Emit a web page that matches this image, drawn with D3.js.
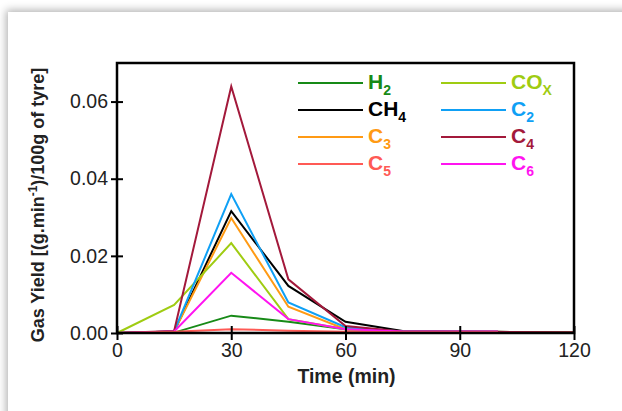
<!DOCTYPE html>
<html>
<head>
<meta charset="utf-8">
<script src="https://cdn.jsdelivr.net/npm/d3@7"></script>
<style>
  html, body { margin: 0; padding: 0; background: #fff; overflow: hidden; }
  #card {
    position: absolute; left: 8px; top: 12px; width: 660px; height: 430px;
    background: #fff; box-shadow: 0 0 8px 2px rgba(0, 0, 0, 0.3);
  }
  svg { position: absolute; left: 0; top: 0; }
  text { font-family: "Liberation Sans", Arial, sans-serif; }
</style>
</head>
<body>
<div id="card"></div>
<svg id="chart" width="622" height="411"></svg>
<script>
// Sampling times (min)
const times = [0, 15, 30, 45, 60, 75, 100, 120];

// Gas yields (g/min per 100 g of tyre); null = not measured
const h2 = [0, 0.0001, 0.0045, 0.0029, 0.0010, 0.0004, 0.0003, 0.0002];
const cox = [0, 0.0073, 0.0233, 0.0036, 0.0010, 0.0003, 0.0003, null];
const ch4 = [0, 0.0004, 0.0316, 0.0122, 0.0029, 0.0005, 0.0003, null];
const c2 = [0, 0.0004, 0.0360, 0.0079, 0.0015, 0.0004, 0.0003, null];
const c3 = [0, 0.0004, 0.0298, 0.0068, 0.0010, 0.0003, 0.0003, null];
const c4 = [0, 0.0005, 0.0639, 0.0139, 0.0018, 0.0004, 0.0003, 0.0002];
const c5 = [0, 0.0003, 0.0010, 0.0006, 0.0003, 0.0002, 0.0002, null];
const c6 = [0, 0.0004, 0.0156, 0.0036, 0.0010, 0.0004, 0.0004, null];

const xTicks = [0, 30, 60, 90, 120];
const yTicks = [0, 0.02, 0.04, 0.06];

// name, subscript, values, colour, legend column, legend row
const series = [
  { name: 'H', sub: '2', values: h2, color: '#178a17', col: 0, row: 0 },
  { name: 'CH', sub: '4', values: ch4, color: '#000000', col: 0, row: 1 },
  { name: 'C', sub: '3', values: c3, color: '#ff9a14', col: 0, row: 2 },
  { name: 'CO', sub: 'X', values: cox, color: '#9fcc12', col: 1, row: 0 },
  { name: 'C', sub: '2', values: c2, color: '#0fa0f5', col: 1, row: 1 },
  { name: 'C', sub: '4', values: c4, color: '#a3193b', col: 1, row: 2 },
  { name: 'C', sub: '6', values: c6, color: '#ff14f0', col: 1, row: 3 },
  { name: 'C', sub: '5', values: c5, color: '#ff5a55', col: 0, row: 3 }
];

const plotLeft = 117, plotRight = 574, plotTop = 63, plotBottom = 333;

const svg = d3.select('#chart');

const x = d3.scaleLinear().domain([0, 120]).range([plotLeft, plotRight]);
const y = d3.scaleLinear().domain([0, 0.07]).range([plotBottom, plotTop]);

// Lines
const line = d3.line()
  .defined(d => d[1] !== null)
  .x(d => x(d[0]))
  .y(d => y(d[1]));

svg.append('g')
  .selectAll('path')
  .data(series)
  .join('path')
  .attr('fill', 'none')
  .attr('stroke', d => d.color)
  .attr('stroke-width', 2)
  .attr('d', d => line(times.map((t, i) => [t, d.values[i]])));

// Frame
svg.append('rect')
  .attr('x', plotLeft).attr('y', plotTop)
  .attr('width', plotRight - plotLeft).attr('height', plotBottom - plotTop)
  .attr('fill', 'none')
  .attr('stroke', '#000')
  .attr('stroke-width', 2.5);

// Axes
const xAxis = svg.append('g')
  .attr('transform', `translate(0,${plotBottom})`)
  .call(d3.axisBottom(x).tickValues(xTicks).tickSize(7).tickPadding(3).tickFormat(d3.format('d')));
xAxis.select('.domain').remove();
xAxis.selectAll('.tick line').attr('y1', -7).attr('stroke-width', 2);
xAxis.selectAll('.tick text')
  .attr('fill', '#222')
  .style('font-size', '19.5px');

const yAxis = svg.append('g')
  .attr('transform', `translate(${plotLeft},0)`)
  .call(d3.axisLeft(y).tickValues(yTicks).tickSize(6).tickPadding(3).tickFormat(d3.format('.2f')));
yAxis.select('.domain').remove();
yAxis.selectAll('.tick line').attr('x1', 6).attr('stroke-width', 2);
yAxis.selectAll('.tick text')
  .attr('fill', '#222')
  .style('font-size', '19.5px');

// Axis titles
svg.append('text')
  .attr('x', (plotLeft + plotRight) / 2 + 1)
  .attr('y', 383)
  .attr('text-anchor', 'middle')
  .attr('fill', '#222')
  .style('font-size', '19.5px')
  .style('font-weight', 'bold')
  .text('Time (min)');

const yTitle = svg.append('text')
  .attr('transform', `translate(44,${(plotTop + plotBottom) / 2 + 7}) rotate(-90)`)
  .attr('text-anchor', 'middle')
  .attr('fill', '#222')
  .style('font-size', '18px')
  .style('font-weight', 'bold');
yTitle.append('tspan').text('Gas Yield [(g.min');
yTitle.append('tspan').attr('dy', -7).style('font-size', '12px').text('-1');
yTitle.append('tspan').attr('dy', 7).text(')/100g of tyre]');

// Legend
const legendX = [298, 441];
const legendY = 83;
const rowGap = 27;

const legend = svg.append('g')
  .selectAll('g')
  .data(series)
  .join('g')
  .attr('transform', d => `translate(${legendX[d.col]},${legendY + d.row * rowGap})`);

legend.append('line')
  .attr('x1', 0).attr('x2', 65)
  .attr('stroke', d => d.color)
  .attr('stroke-width', 2);

const label = legend.append('text')
  .attr('x', 70)
  .attr('y', 6)
  .attr('fill', d => d.color)
  .style('font-size', '21px')
  .style('font-weight', 'bold');
label.append('tspan').text(d => d.name);
label.append('tspan')
  .attr('dy', 6)
  .style('font-size', '14px')
  .text(d => d.sub);
</script>
</body>
</html>
